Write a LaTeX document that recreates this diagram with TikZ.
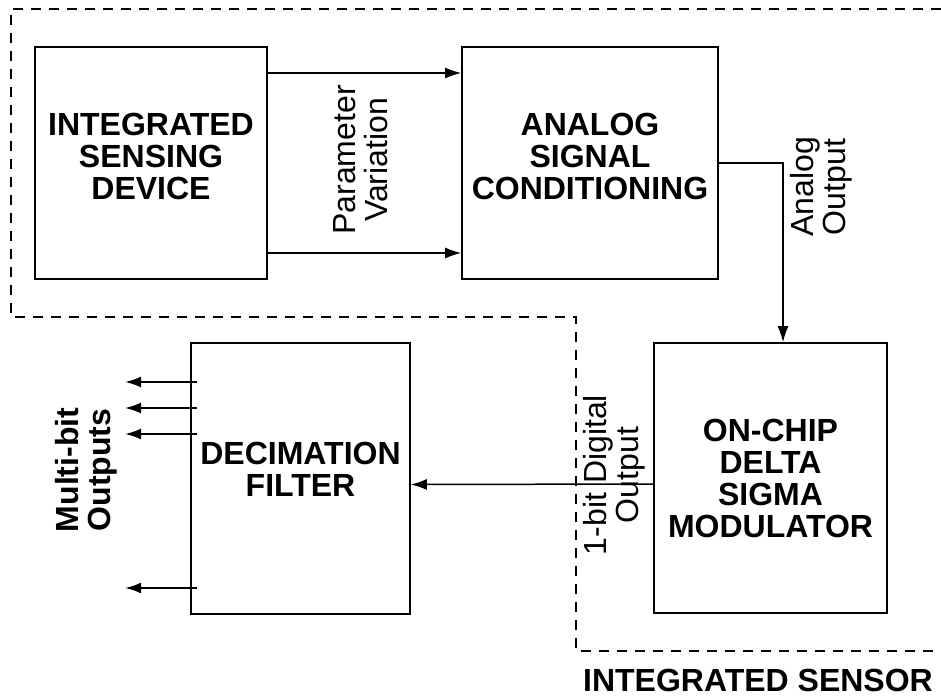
\documentclass[tikz,border=0pt]{standalone}
\usepackage{fontspec}
\setmainfont{Liberation Sans}
\usetikzlibrary{arrows.meta, positioning}

\begin{document}
\begin{tikzpicture}[x=1pt, y=-1pt,
        blok/.style 2 args={draw, line width=1.6pt, inner sep=0pt, minimum width=#1pt, minimum height=#2pt},
        tekst/.style={font=\bfseries\fontsize{32}{32}\selectfont, align=center, inner sep=0pt},
        zij/.style={font=\fontsize{32}{32}\selectfont, align=center, inner sep=0pt, rotate=90},
        pijl/.style={line width=1.5pt, -{Latex[length=16pt, width=11pt]}}]
        \useasboundingbox (0,0) rectangle (941,698);

        % Grens sensor
        \draw[line width=1.3pt, dash pattern=on 10pt off 8pt] (941,9) -- (11,9) -- (11,317) -- (576,317) -- (576,651) -- (941,651);
        \node[tekst] (sensor) at (758,680) {INTEGRATED SENSOR};

        % Blokken
        \node[blok={232}{232}, label={[tekst, yshift=6.5pt]center:INTEGRATED\\SENSING\\DEVICE}] (isd) at (151,163) {};
        \node[blok={256}{232}, label={[tekst, yshift=6.5pt]center:ANALOG\\SIGNAL\\CONDITIONING}] (asc) at (590,163) {};
        \node[blok={233}{270}, label={[tekst]center:ON-CHIP\\DELTA\\SIGMA\\MODULATOR}] (dsm) at (770.5,478) {};
        \node[blok={219}{271}, label={[tekst, yshift=9.5pt]center:DECIMATION\\FILTER}] (df) at (300.5,478.5) {};

        % Pijlen tussen blokken
        \draw[pijl] ([yshift=90pt]isd.east) -- ([yshift=90pt]asc.west);
        \draw[pijl] ([yshift=-90pt]isd.east) -- ([yshift=-90pt]asc.west);
        \draw[pijl] (asc.east) -| ([xshift=12.5pt]dsm.north);
        \draw[pijl] ([yshift=-6pt]dsm.west) -- ([yshift=-6pt]df.east);

        % Uitgangen filter
        \foreach \y in {382,408,434,588}
            \draw[pijl] (df.west |- 0,\y) ++(7,0) -- ++(-72,0);

        % Labels
        \node[zij] (parvar) at (361,160) {Parameter\\Variation};
        \node[zij] (anout) at (821,187) {Analog\\Output};
        \node[zij] (digout) at (614,475) {1-bit Digital\\Output};
        \node[zij, font=\bfseries\fontsize{32}{32}\selectfont] (multi) at (86,470) {Multi-bit\\Outputs};

    \end{tikzpicture}
\end{document}
